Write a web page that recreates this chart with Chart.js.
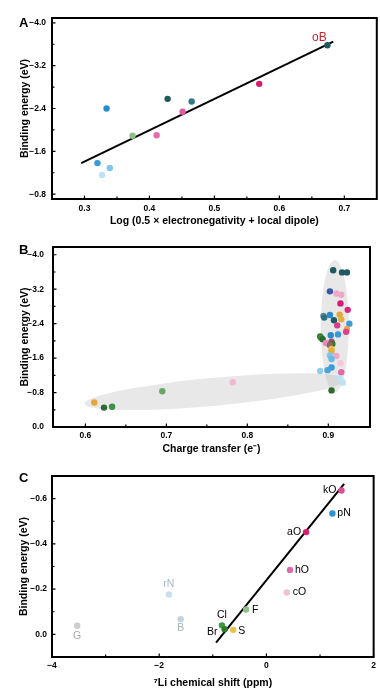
<!DOCTYPE html>
<html><head><meta charset="utf-8">
<script src="https://cdn.jsdelivr.net/npm/chart.js@4.4.1/dist/chart.umd.min.js"></script>
<style>
html,body{margin:0;padding:0;background:#fff;width:380px;height:692px;overflow:hidden;position:relative}
canvas{position:absolute;left:0}
.pl{position:absolute;font:bold 13px "Liberation Sans",Arial,sans-serif;color:#000;line-height:normal}
</style></head><body>
<canvas id="cA" width="380" height="230" style="top:0px"></canvas>
<canvas id="cB" width="380" height="230" style="top:230px"></canvas>
<canvas id="cC" width="380" height="232" style="top:460px"></canvas>
<div class="pl" style="left:19px;top:15px">A</div>
<div class="pl" style="left:19px;top:242px">B</div>
<div class="pl" style="left:19px;top:470px">C</div>
<script>
// ---------- Panel A data ----------
const xA = [0.674, 0.569, 0.428, 0.465, 0.334, 0.451, 0.374, 0.411, 0.320, 0.339, 0.327];
const yA = [-3.58, -2.86, -2.58, -2.53, -2.40, -2.34, -1.89, -1.90, -1.38, -1.29, -1.16];
const colorsA = ['#1f5a63','#d81b72','#1f5c57','#2f7d8a','#2a8ad0','#e45aa0','#8fbf86','#e86aae','#3a9ad8','#7fc6ec','#bde3f5'];
const fitXA = [0.295, 0.683];
const fitYA = [-1.38, -3.65];
const labelA = 'oB';
const xMajorA = [0.3, 0.4, 0.5, 0.6, 0.7];
const xMinorA = [0.35, 0.45, 0.55, 0.65];
const yMajorA = [-4.0, -3.2, -2.4, -1.6, -0.8];
const yMinorA = [-3.6, -2.8, -2.0, -1.2];

// ---------- Panel B data ----------
const xB = [0.611,0.623,0.633,0.695,0.782,0.904,
  0.906,0.917,0.923,0.902,0.910,0.916,0.915,0.924,0.902,0.894,0.895,0.914,0.916,0.907,
  0.911,0.926,0.923,0.922,0.903,0.912,0.890,0.891,0.893,0.897,0.904,0.905,0.902,0.904,
  0.904,0.910,0.902,0.904,0.915,0.904,0.899,0.890,0.916,0.914,0.918];
const yB = [-0.57,-0.45,-0.47,-0.83,-1.04,-0.85,
  -3.64,-3.59,-3.59,-3.15,-3.10,-3.07,-2.87,-2.72,-2.60,-2.58,-2.54,-2.61,-2.50,-2.48,
  -2.36,-2.40,-2.27,-2.21,-2.13,-2.15,-2.10,-2.07,-2.04,-1.95,-1.98,-1.93,-1.90,-1.81,
  -1.76,-1.65,-1.66,-1.58,-1.48,-1.38,-1.32,-1.30,-1.27,-1.13,-1.03];
const colorsB = ['#e8a53a','#2f6b2f','#3f8f45','#6aa868','#f2b8cf','#2f6b2f',
  '#1f5a63','#1f5a63','#1f5a63','#3d57a8','#f0a8c8','#f0a8c8','#d81b72','#d8287a','#2a8ad0','#5a8a98','#2f6f80','#e8a53a','#e0b040','#1f5a63',
  '#d83c8c','#3a9ad8','#e8a53a','#e0408a','#2a8ad0','#3a9ad8','#2f7a2f','#3a8a35','#2a6a2a','#e88ab8','#a04a80','#2f7a2f','#8a6a58','#e8c04a',
  '#e0b040','#f0a8c8','#7fc6ec','#6ab8e6','#f5c8da','#3a9ad8','#4aa4dc','#8fcdef','#e36aa8','#bde3f5','#bde3f5'];
const xMajorB = [0.6, 0.7, 0.8, 0.9];
const xMinorB = [0.65, 0.75, 0.85];
const yMajorB = [-4.0, -3.2, -2.4, -1.6, -0.8, 0.0];
const yMinorB = [-3.6, -2.8, -2.0, -1.2, -0.4];
// grey regions (ends in data units)
const regionEndsB = [[0.599, -0.54, 0.921, -1.10], [0.908, -3.87, 0.908, -0.80]];

// ---------- Panel C data ----------
const namesC = ['kO','pN','aO','hO','cO','F','Cl','Br','S','rN','B','G'];
const xC = [1.40, 1.23, 0.74, 0.44, 0.38, -0.38, -0.83, -0.78, -0.62, -1.82, -1.60, -3.53];
const yC = [-0.636, -0.534, -0.452, -0.285, -0.185, -0.110, -0.040, -0.023, -0.020, -0.176, -0.067, -0.038];
const colorsC = ['#d94f9c','#2b92d4','#d8206f','#e06aa8','#f2c0d2','#8fc08a','#3f9a3f','#2e7a30','#e8c04a','#c8dff0','#c5d3dc','#cccccc'];
const fitXC = [-0.94, 1.45];
const fitYC = [0.037, -0.665];
const xMajorC = [-4, -2, 0, 2];
const xMinorC = [-3, -1, 1];
const yMajorC = [-0.6, -0.4, -0.2, 0.0];
const yMinorC = [-0.5, -0.3, -0.1];

// ---------- styling helpers ----------
const FONT = '"Liberation Sans", Arial, Helvetica, sans-serif';
Chart.defaults.font.family = FONT;
const tickSet = (a, b) => [...a, ...b].sort((p, q) => p - q);
const isMajor = (v, m) => m.some(t => Math.abs(t - v) < 1e-6);
const fmt1 = v => (v < -1e-9 ? '\u2212' : '') + Math.abs(v).toFixed(1);
const fmt0 = v => (v < -1e-9 ? '\u2212' : '') + Math.abs(v).toFixed(0);
const pts = (xs, ys) => xs.map((x, i) => ({x, y: ys[i]}));

function scales(c) {
  return {
    x: {
      type: 'linear', position: 'bottom', min: c.xMin, max: c.xMax,
      grid: {display: false, drawTicks: false}, border: {display: false},
      afterBuildTicks: s => { s.ticks = tickSet(c.xMajor, c.xMinor).map(v => ({value: v})); },
      afterFit: s => { s.height = c.xH; },
      ticks: {autoSkip: false, maxRotation: 0, minRotation: 0, padding: c.xPad, color: '#000',
        font: {family: FONT, size: 8.5, weight: 'bold'},
        callback: v => isMajor(v, c.xMajor) ? c.xFmt(v) : ''},
      title: {display: true, text: c.xTitle, color: '#000',
        font: {family: FONT, size: 10.5, weight: 'bold'}, padding: {top: 0, bottom: c.xTitlePad}}
    },
    y: {
      type: 'linear', position: 'left', min: c.yMin, max: c.yMax, reverse: true,
      grid: {display: false, drawTicks: false}, border: {display: false},
      afterBuildTicks: s => { s.ticks = tickSet(c.yMajor, c.yMinor).map(v => ({value: v})); },
      afterFit: s => { s.width = c.yW; },
      ticks: {autoSkip: false, padding: c.yPad, color: '#000',
        font: {family: FONT, size: 8.5, weight: 'bold'},
        callback: v => isMajor(v, c.yMajor) ? c.yFmt(v) : ''},
      title: {display: true, text: 'Binding energy (eV)', color: '#000',
        font: {family: FONT, size: 10.5, weight: 'bold'}, padding: {top: c.yTitlePad, bottom: 0}}
    }
  };
}

const framePlugin = {
  id: 'frame',
  afterDraw(chart) {
    const {ctx, chartArea: a, scales: s} = chart;
    ctx.save();
    ctx.strokeStyle = '#000';
    ctx.lineWidth = 1.2;
    ctx.beginPath();
    s.x.ticks.forEach(t => {
      const p = s.x.getPixelForValue(t.value);
      const L = t.label ? 3.5 : 2.5;
      ctx.moveTo(p, a.bottom); ctx.lineTo(p, a.bottom - L);
    });
    s.y.ticks.forEach(t => {
      const p = s.y.getPixelForValue(t.value);
      const L = t.label ? 3.5 : 2.5;
      ctx.moveTo(a.left, p); ctx.lineTo(a.left + L, p);
    });
    ctx.stroke();
    ctx.lineWidth = 2;
    ctx.strokeRect(a.left, a.top, a.right - a.left, a.bottom - a.top);
    ctx.restore();
  }
};

function labelPlugin(items) {
  return {
    id: 'ptlabels',
    afterDatasetsDraw(chart) {
      const {ctx, scales: s} = chart;
      ctx.save();
      items.forEach(it => {
        const px = s.x.getPixelForValue(it.x) + it.dx;
        const py = s.y.getPixelForValue(it.y) + it.dy;
        ctx.font = it.font;
        ctx.fillStyle = it.color;
        ctx.textAlign = it.align;
        ctx.textBaseline = 'middle';
        ctx.fillText(it.text, px, py);
      });
      ctx.restore();
    }
  };
}

const regionPlugin = {
  id: 'regions',
  beforeDatasetsDraw(chart) {
    const {ctx, scales: s} = chart;
    ctx.save();
    ctx.fillStyle = 'rgba(185,185,185,0.33)';
    const halfW = [14, 14];
    regionEndsB.forEach((r, i) => {
      const x1 = s.x.getPixelForValue(r[0]), y1 = s.y.getPixelForValue(r[1]);
      const x2 = s.x.getPixelForValue(r[2]), y2 = s.y.getPixelForValue(r[3]);
      const cx = (x1 + x2) / 2, cy = (y1 + y2) / 2;
      const len = Math.hypot(x2 - x1, y2 - y1) / 2;
      const ang = Math.atan2(y2 - y1, x2 - x1);
      ctx.beginPath();
      ctx.ellipse(cx, cy, len, halfW[i], ang, 0, Math.PI * 2);
      ctx.fill();
    });
    ctx.restore();
  }
};

const common = {
  responsive: false, animation: false, devicePixelRatio: 1,
  plugins: {legend: {display: false}, tooltip: {enabled: false}}
};
const dot = {pointRadius: 3.2, pointBorderWidth: 0, pointHoverRadius: 3.2, order: 1};
const fitStyle = {showLine: true, borderColor: '#000', borderWidth: 2, pointRadius: 0, order: 2, fill: false};

// ---------- Chart A ----------
new Chart(document.getElementById('cA'), {
  type: 'scatter',
  data: {datasets: [
    Object.assign({data: pts(xA, yA), backgroundColor: colorsA}, dot),
    Object.assign({data: pts(fitXA, fitYA)}, fitStyle)
  ]},
  options: Object.assign({}, common, {
    layout: {padding: {top: 18, right: 2.3, left: 0, bottom: 0}},
    scales: scales({xMin: 0.25, xMax: 0.75, yMin: -4.09, yMax: -0.71,
      xMajor: xMajorA, xMinor: xMinorA, yMajor: yMajorA, yMinor: yMinorA,
      xFmt: fmt1, yFmt: fmt1, xTitle: 'Log (0.5 \u00d7 electronegativity + local dipole)',
      xH: 31, yW: 52, xPad: 4.2, yPad: 6, xTitlePad: 3, yTitlePad: 18.7})
  }),
  plugins: [framePlugin, labelPlugin([
    {text: labelA, x: xA[0], y: yA[0], dx: -8, dy: -7.5, align: 'center', color: '#c8232c', font: '12px ' + FONT}
  ])]
});

// ---------- Chart B ----------
new Chart(document.getElementById('cB'), {
  type: 'scatter',
  data: {datasets: [
    Object.assign({data: pts(xB, yB), backgroundColor: colorsB}, dot)
  ]},
  options: Object.assign({}, common, {
    layout: {padding: {top: 17, right: 10, left: 0, bottom: 0}},
    scales: scales({xMin: 0.56, xMax: 0.9515, yMin: -4.18, yMax: 0.0,
      xMajor: xMajorB, xMinor: xMinorB, yMajor: yMajorB, yMinor: yMinorB,
      xFmt: fmt1, yFmt: fmt1, xTitle: 'Charge transfer (e\u207b)',
      xH: 33, yW: 53, xPad: 4, yPad: 9, xTitlePad: 4.7, yTitlePad: 18.7})
  }),
  plugins: [regionPlugin, framePlugin]
});

// ---------- Chart C ----------
const labelPosC = [
  {dx: -5, dy: 0, align: 'right'}, {dx: 5, dy: 0, align: 'left'}, {dx: -5, dy: 0, align: 'right'},
  {dx: 5, dy: 0, align: 'left'}, {dx: 6, dy: 0, align: 'left'}, {dx: 6, dy: 1, align: 'left'},
  {dx: 0, dy: -10, align: 'center'}, {dx: -7, dy: 3, align: 'right'}, {dx: 5, dy: 1, align: 'left'},
  {dx: 0, dy: -10, align: 'center'}, {dx: 0, dy: 9, align: 'center'}, {dx: 0, dy: 10, align: 'center'}
];
const labelColorC = ['#000','#000','#000','#000','#000','#000','#000','#000','#000','#a9b8c4','#a8b0b6','#aaaaaa'];
new Chart(document.getElementById('cC'), {
  type: 'scatter',
  data: {datasets: [
    Object.assign({data: pts(xC, yC), backgroundColor: colorsC}, dot),
    Object.assign({data: pts(fitXC, fitYC)}, fitStyle)
  ]},
  options: Object.assign({}, common, {
    layout: {padding: {top: 16, right: 3.3, left: 0, bottom: 0}},
    scales: scales({xMin: -4, xMax: 2, yMin: -0.7, yMax: 0.1,
      xMajor: xMajorC, xMinor: xMinorC, yMajor: yMajorC, yMinor: yMinorC,
      xFmt: fmt0, yFmt: fmt1, xTitle: '\u2077Li chemical shift (ppm)',
      xH: 35, yW: 52, xPad: 4, yPad: 5, xTitlePad: 3, yTitlePad: 17.7})
  }),
  plugins: [framePlugin, labelPlugin(namesC.map((n, i) => Object.assign(
    {text: n, x: xC[i], y: yC[i], color: labelColorC[i], font: '10.5px ' + FONT}, labelPosC[i])))]
});
</script>
</body></html>
